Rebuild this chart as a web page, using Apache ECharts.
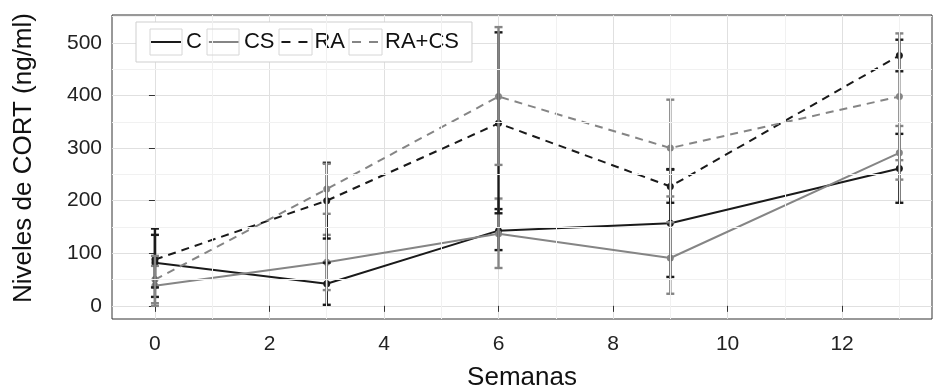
<!DOCTYPE html>
<html>
<head>
<meta charset="utf-8">
<script src="https://cdn.jsdelivr.net/npm/echarts@6/dist/echarts.min.js"></script>
<style>
html,body{margin:0;padding:0;background:#fff}
#main{width:933px;height:388px}
</style>
</head>
<body>
<div id="main"></div>
<script>
// semanas
var weeks = [0, 3, 6, 9, 13];

// medias y barras de error (ng/ml)
var cMean = [82, 42, 143, 157, 261];
var cLow = [17, 2, 106, 55, 196];
var cHigh = [147, 82, 184, 259, 327];

var csMean = [38, 83, 137, 91, 291];
var csLow = [0, 30, 72, 23, 240];
var csHigh = [76, 135, 204, 159, 342];

var raMean = [88, 200, 347, 227, 476];
var raLow = [35, 128, 176, 196, 446];
var raHigh = [135, 272, 520, 260, 506];

var racsMean = [50, 222, 398, 300, 398];
var racsLow = [5, 175, 268, 208, 277];
var racsHigh = [95, 270, 530, 392, 518];

// ejes
var xTicks = [0, 2, 4, 6, 8, 10, 12];
var xMinor = [1, 3, 5, 7, 9, 11, 13];
var yTicks = [0, 100, 200, 300, 400, 500];
var yMinor = [50, 150, 250, 350, 450, 550];

var FONT = '"Liberation Sans", Arial, sans-serif';
var BLACK = '#1a1a1a', GREY = '#858585';

function pts(ys){
    var out = [];
    for (var i = 0; i < weeks.length; i++) out.push([weeks[i], ys[i]]);
    return out;
}
function bars(lo, hi){
    var out = [];
    for (var i = 0; i < weeks.length; i++) out.push([weeks[i], lo[i], hi[i]]);
    return out;
}

// barra de error
function errBar(color){
    return function(params, api){
        var x = api.value(0);
        var lo = api.coord([x, api.value(1)]);
        var hi = api.coord([x, api.value(2)]);
        var w = 4;
        var st = {stroke: color, lineWidth: 2.4, fill: null};
        return {type: 'group', children: [
            {type: 'line', shape: {x1: lo[0], y1: lo[1], x2: hi[0], y2: hi[1]}, style: st},
            {type: 'line', shape: {x1: lo[0] - w, y1: lo[1], x2: lo[0] + w, y2: lo[1]}, style: st},
            {type: 'line', shape: {x1: hi[0] - w, y1: hi[1], x2: hi[0] + w, y2: hi[1]}, style: st}
        ]};
    };
}

function lineSeries(name, ys, color, dashed){
    return {
        name: name, type: 'line', data: pts(ys), z: 3,
        symbol: 'circle', symbolSize: 7, showSymbol: true,
        color: color,
        itemStyle: {color: color},
        lineStyle: {color: color, width: 2, type: dashed ? [8, 6] : 'solid'},
        animation: false
    };
}
function barSeries(name, lo, hi, color){
    return {
        name: name, type: 'custom', data: bars(lo, hi), z: 4,
        renderItem: errBar(color), encode: {x: 0, y: [1, 2]},
        animation: false, silent: true
    };
}

var solidIcon = 'path://M0,0H30V2H0Z';
var dashIcon = 'path://M2,0H11V2H2Z M19,0H28V2H19Z';

var minorLines = [];
yMinor.forEach(function(v){ minorLines.push({yAxis: v}); });
xMinor.forEach(function(v){ minorLines.push({xAxis: v}); });

var boxStyle = {fill: null, stroke: '#d6d6d6', lineWidth: 1};

var option = {
    backgroundColor: '#fff',
    animation: false,
    textStyle: {fontFamily: FONT},
    grid: {left: 112, right: 1, top: 15, bottom: 69, show: true,
        containLabel: false, outerBoundsMode: 'none',
        borderColor: '#333', borderWidth: 1, backgroundColor: '#fff'},
    xAxis: {
        type: 'value', min: -0.75, max: 13.57,
        name: 'Semanas', nameLocation: 'middle', nameGap: 46,
        nameTextStyle: {fontSize: 26, color: '#111', fontFamily: FONT},
        axisLine: {show: false},
        axisTick: {show: true, length: 6, customValues: xTicks, lineStyle: {color: '#333'}},
        axisLabel: {customValues: xTicks, fontSize: 21, color: '#222', margin: 15, fontFamily: FONT},
        splitLine: {show: true, lineStyle: {color: '#e0e0e0', width: 1}}
    },
    yAxis: {
        type: 'value', min: -25, max: 553,
        name: 'Niveles de CORT (ng/ml)', nameLocation: 'middle', nameGap: 75, nameRotate: 90,
        nameTextStyle: {fontSize: 26, color: '#111', fontFamily: FONT, padding: [0, 0, 0, 18]},
        axisLine: {show: false},
        axisTick: {show: true, length: 6, customValues: yTicks, lineStyle: {color: '#333'}},
        axisLabel: {customValues: yTicks, fontSize: 21, color: '#222', margin: 10, fontFamily: FONT},
        splitLine: {show: true, lineStyle: {color: '#e0e0e0', width: 1}}
    },
    legend: {
        left: 136, top: 22, orient: 'horizontal',
        padding: [9, 13, 9, 15],
        backgroundColor: '#fff', borderColor: '#cfcfcf', borderWidth: 1,
        itemWidth: 30, itemHeight: 2, itemGap: 7,
        itemStyle: {borderWidth: 0},
        textStyle: {fontSize: 22, color: '#111', fontFamily: FONT},
        data: [
            {name: 'C', icon: solidIcon},
            {name: 'CS', icon: solidIcon},
            {name: 'RA', icon: dashIcon},
            {name: 'RA+CS', icon: dashIcon}
        ],
        selectedMode: false
    },
    series: [
        {
            name: 'minor', type: 'line', data: [], z: 1, silent: true,
            markLine: {
                silent: true, symbol: 'none', label: {show: false}, animation: false,
                lineStyle: {color: '#f1f1f1', width: 1, type: 'solid'},
                data: minorLines
            }
        },
        lineSeries('C', cMean, BLACK, false),
        lineSeries('CS', csMean, GREY, false),
        lineSeries('RA', raMean, BLACK, true),
        lineSeries('RA+CS', racsMean, GREY, true),
        barSeries('C sd', cLow, cHigh, BLACK),
        barSeries('CS sd', csLow, csHigh, GREY),
        barSeries('RA sd', raLow, raHigh, BLACK),
        barSeries('RA+CS sd', racsLow, racsHigh, GREY)
    ],
    graphic: [
        {type: 'rect', shape: {x: 150, y: 29, width: 32, height: 26}, style: boxStyle, z: 100},
        {type: 'rect', shape: {x: 207, y: 29, width: 32, height: 26}, style: boxStyle, z: 100},
        {type: 'rect', shape: {x: 279, y: 29, width: 33, height: 26}, style: boxStyle, z: 100},
        {type: 'rect', shape: {x: 349, y: 29, width: 33, height: 26}, style: boxStyle, z: 100}
    ]
};

var chart = echarts.init(document.getElementById('main'), null, {renderer: 'canvas'});
chart.setOption(option);
</script>
</body>
</html>
